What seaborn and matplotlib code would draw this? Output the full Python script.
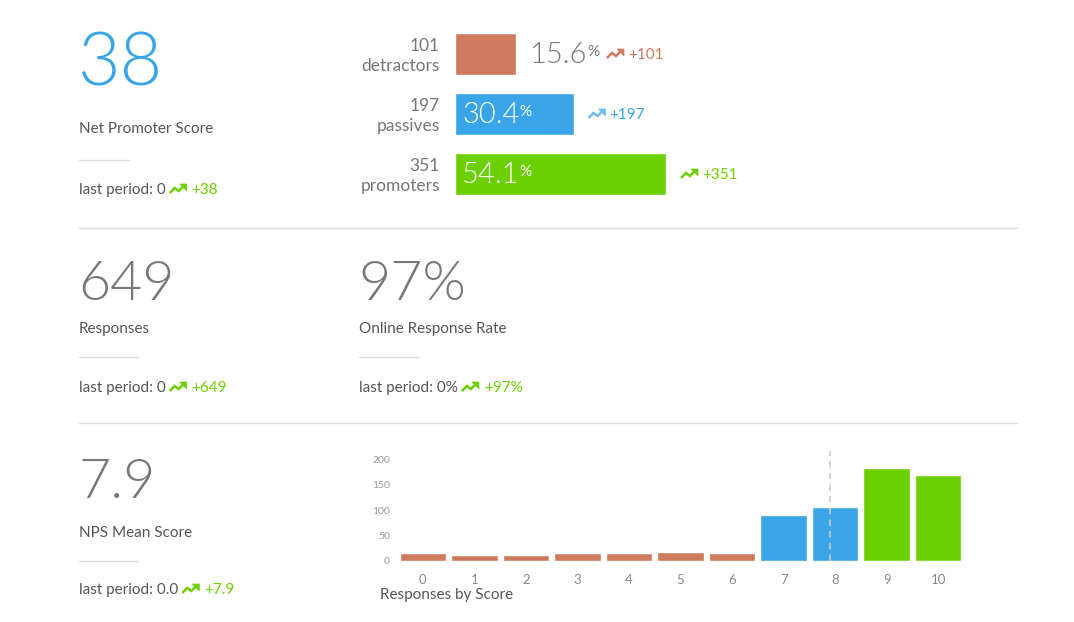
import matplotlib
matplotlib.use("Agg")
import matplotlib.pyplot as plt
import seaborn as sns
import numpy as np
import pandas as pd
from matplotlib.lines import Line2D
from matplotlib.patches import Polygon
from matplotlib.transforms import blended_transform_factory

# ---------------- data ----------------
nps_score = "38"
nps_last = "last period: 0"
nps_delta = "+38"

groups = ["detractors", "passives", "promoters"]
group_counts = [101, 197, 351]
group_pcts = [15.6, 30.4, 54.1]
group_deltas = ["+101", "+197", "+351"]

responses = "649"
responses_last = "last period: 0"
responses_delta = "+649"

rate = "97%"
rate_last = "last period: 0%"
rate_delta = "+97%"

mean_score = "7.9"
mean_value = 7.9
mean_last = "last period: 0.0"
mean_delta = "+7.9"

scores = [str(i) for i in range(11)]
score_counts = [15, 12, 11, 15, 15, 18, 15, 90, 107, 182, 169]
score_groups = ["detractors"] * 7 + ["passives"] * 2 + ["promoters"] * 2

# ---------------- style ----------------
RED = "#CF7A5C"
BLUE = "#3AA5E6"
BLUE_LIGHT = "#6FBDEE"
GREEN = "#6CCF00"
GRAY_NUM = "#777777"
GRAY_TXT = "#555555"
GRAY_LINE = "#DDDDDD"
group_colors = {"detractors": RED, "passives": BLUE, "promoters": GREEN}
icon_colors = [RED, BLUE_LIGHT, GREEN]
delta_colors = [RED, BLUE, GREEN]
BIG_WEIGHT = 300

sns.set_theme(style="white")
plt.rcParams["font.family"] = ["Lato", "DejaVu Sans"]

W, H = 1074, 622
fig = plt.figure(figsize=(W / 100, H / 100), dpi=100)
fig.patch.set_facecolor("white")


def fx(x):
    return x / W


def fy(y):
    return 1 - y / H


def ftext(x, y, s, **kw):
    return fig.text(fx(x), fy(y), s, **kw)


def hline(x0, x1, y, color=GRAY_LINE, lw=1.0):
    fig.add_artist(Line2D([fx(x0), fx(x1)], [fy(y), fy(y)],
                          transform=fig.transFigure, color=color, lw=lw))


def trend_icon(x, y, color):
    # x: left edge, y: baseline (pixels from top)
    xs = np.array([0, 5, 9, 14]) + x
    ys = np.array([0, -5, -2, -7]) + y
    fig.add_artist(Line2D(fx(xs), fy(ys), transform=fig.transFigure,
                          color=color, lw=1.8, solid_joinstyle="miter",
                          solid_capstyle="butt"))
    tip = (x + 17, y - 9)
    head = [(fx(tip[0]), fy(tip[1])),
            (fx(tip[0] - 7), fy(tip[1])),
            (fx(tip[0]), fy(tip[1] + 7))]
    fig.add_artist(Polygon(head, closed=True, transform=fig.transFigure,
                           facecolor=color, edgecolor=color, lw=0.5))


def last_period(x, y, label, delta):
    t = ftext(x, y, label, fontsize=11, color=GRAY_TXT, va="baseline", ha="left")
    fig.canvas.draw()
    bb = t.get_window_extent()
    xend = bb.x1
    trend_icon(xend + 4, y - 1, GREEN)
    ftext(xend + 26, y, delta, fontsize=11, color=GREEN, va="baseline", ha="left")


# ---------------- section 1 ----------------
ftext(78, 85, nps_score, fontsize=53, color=BLUE, va="baseline", ha="left",
      fontweight=BIG_WEIGHT)
ftext(79, 133, "Net Promoter Score", fontsize=11, color=GRAY_TXT, va="baseline")
hline(79, 129, 160)
last_period(79, 194, nps_last, nps_delta)
hline(79, 1017, 228)

# horizontal bars
ax1 = fig.add_axes([fx(455), fy(204), 390 / W, 180 / H])
df_groups = pd.DataFrame({"group": groups, "pct": group_pcts})
sns.barplot(data=df_groups, x="pct", y="group", hue="group", palette=group_colors,
            orient="h", width=0.7, ax=ax1, legend=False, saturation=1)
ax1.set_xlim(0, 100)
ax1.set_ylim(2.5, -0.5)
ax1.axis("off")
tr = blended_transform_factory(ax1.transAxes, ax1.transData)
for i, (g, c, p, d) in enumerate(zip(groups, group_counts, group_pcts, group_deltas)):
    ax1.text(-0.0385, i - 0.14, str(c), transform=tr, ha="right", va="center",
             fontsize=12.5, color=GRAY_NUM)
    ax1.text(-0.0385, i + 0.2, g, transform=tr, ha="right", va="center",
             fontsize=12.5, color=GRAY_NUM)
    inside = p >= 20
    if inside:
        t = ax1.text(1.8, i + 0.02, f"{p:.1f}", ha="left", va="center",
                     fontsize=21, color="white", fontweight=BIG_WEIGHT)
    else:
        t = ax1.text(p + 3.5, i + 0.02, f"{p:.1f}", ha="left", va="center",
                     fontsize=21, color=GRAY_NUM, fontweight=BIG_WEIGHT)
    ax1.annotate("%", xy=(1, 0.88), xycoords=t, xytext=(0, 0),
                 textcoords="offset points", ha="left", va="top", fontsize=11,
                 color="white" if inside else GRAY_NUM)
    fig.canvas.draw()
    if inside:
        xstart = ax1.transData.transform((p, i))[0] + 15
    else:
        xstart = 607
    ypix = ax1.transData.transform((0, i))[1]
    ybase = H - ypix + 5
    trend_icon(xstart, ybase - 1, icon_colors[i])
    ftext(xstart + 21, ybase, d, fontsize=11, color=delta_colors[i],
          va="baseline", ha="left")

# ---------------- section 2 ----------------
ftext(78, 300, responses, fontsize=40, color=GRAY_NUM, va="baseline",
      fontweight=BIG_WEIGHT)
ftext(79, 333, "Responses", fontsize=11, color=GRAY_TXT, va="baseline")
hline(79, 138, 357)
last_period(79, 392, responses_last, responses_delta)

ftext(358, 300, rate, fontsize=40, color=GRAY_NUM, va="baseline",
      fontweight=BIG_WEIGHT)
ftext(359, 333, "Online Response Rate", fontsize=11, color=GRAY_TXT, va="baseline")
hline(359, 419, 357)
last_period(359, 392, rate_last, rate_delta)
hline(79, 1017, 423)

# ---------------- section 3 ----------------
ftext(78, 498, mean_score, fontsize=40, color=GRAY_NUM, va="baseline",
      fontweight=BIG_WEIGHT)
ftext(79, 537, "NPS Mean Score", fontsize=11, color=GRAY_TXT, va="baseline")
hline(79, 138, 561)
last_period(79, 594, mean_last, mean_delta)

ax2 = fig.add_axes([fx(397), fy(561), (964 - 397) / W, (561 - 451) / H])
df_scores = pd.DataFrame({"score": scores, "count": score_counts,
                          "group": score_groups})
sns.barplot(data=df_scores, x="score", y="count", hue="group",
            palette=group_colors, dodge=False, width=0.9, ax=ax2,
            legend=False, saturation=1, order=scores)
ax2.set_ylim(0, 216)
ax2.set_xlim(-0.5, 10.5)
ax2.axvline(mean_value, color="#CCCCCC", lw=1.2, ls=(0, (4, 3)), zorder=3)
for s in ax2.spines.values():
    s.set_visible(False)
ax2.set_yticks([0, 50, 100, 150, 200])
ax2.tick_params(axis="y", length=0, labelsize=7.5, labelcolor="#999999", pad=5)
ax2.tick_params(axis="x", length=0, labelsize=9.5, labelcolor="#888888", pad=9)
ax2.set_xlabel("")
ax2.set_ylabel("")
ax2.set_facecolor("none")
ftext(380, 599, "Responses by Score", fontsize=11, color=GRAY_TXT,
      va="baseline", ha="left")

fig.savefig("out.png", dpi=100, facecolor="white")
